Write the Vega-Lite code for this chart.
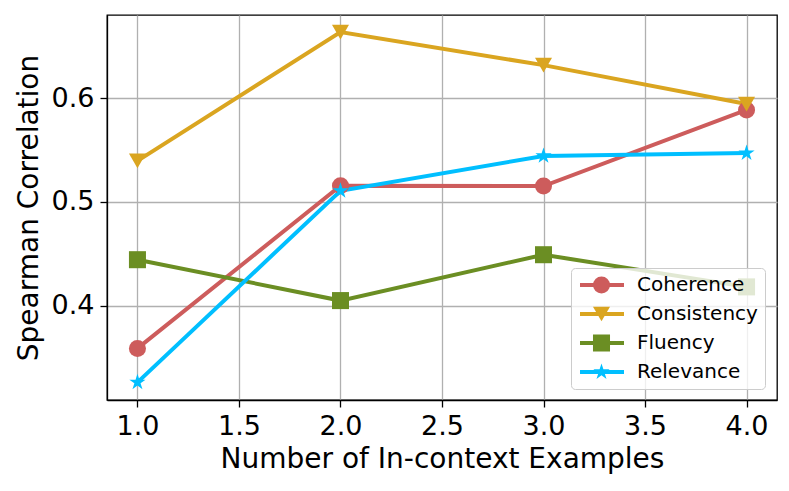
{
  "$schema": "https://vega.github.io/schema/vega-lite/v6.json",
  "width": 670,
  "height": 385,
  "autosize": {"type": "none"},
  "padding": {"left": 107, "top": 15, "right": 12, "bottom": 91},
  "background": "white",
  "data": {"values": [
    {"n": 1, "metric": "Coherence", "rho": 0.3587},
    {"n": 2, "metric": "Coherence", "rho": 0.5154},
    {"n": 3, "metric": "Coherence", "rho": 0.5152},
    {"n": 4, "metric": "Coherence", "rho": 0.5885},
    {"n": 1, "metric": "Consistency", "rho": 0.5394},
    {"n": 2, "metric": "Consistency", "rho": 0.6635},
    {"n": 3, "metric": "Consistency", "rho": 0.6317},
    {"n": 4, "metric": "Consistency", "rho": 0.5942},
    {"n": 1, "metric": "Fluency", "rho": 0.4442},
    {"n": 2, "metric": "Fluency", "rho": 0.4048},
    {"n": 3, "metric": "Fluency", "rho": 0.449},
    {"n": 4, "metric": "Fluency", "rho": 0.418},
    {"n": 1, "metric": "Relevance", "rho": 0.326},
    {"n": 2, "metric": "Relevance", "rho": 0.5106},
    {"n": 3, "metric": "Relevance", "rho": 0.5442},
    {"n": 4, "metric": "Relevance", "rho": 0.547}
  ]},
  "encoding": {
    "x": {"field": "n", "type": "quantitative", "scale": {"domain": [0.85, 4.15], "nice": false, "zero": false},
      "axis": {"title": "Number of In-context Examples", "values": [1, 1.5, 2, 2.5, 3, 3.5, 4], "format": ".1f", "titlePadding": 6, "labelPadding": 6}},
    "y": {"field": "rho", "type": "quantitative", "scale": {"domain": [0.309, 0.68], "nice": false, "zero": false},
      "axis": {"title": "Spearman Correlation", "values": [0.4, 0.5, 0.6], "format": ".1f", "titlePadding": 8, "labelPadding": 6}}
  },
  "layer": [
    {"mark": {"type": "line", "strokeWidth": 4},
     "encoding": {
       "color": {"field": "metric", "type": "nominal",
         "scale": {"domain": ["Coherence", "Consistency", "Fluency", "Relevance"], "range": ["#CD5C5C", "#DAA520", "#6B8E23", "#00BFFF"]},
         "legend": {"title": null, "orient": "none", "legendX": 464, "legendY": 253,
           "symbolType": "stroke", "symbolSize": 1936, "symbolStrokeWidth": 4, "clipHeight": 20,
           "labelFontSize": 20, "labelFont": "DejaVu Sans", "labelColor": "black", "labelOffset": 11,
           "rowPadding": 9, "padding": 7, "strokeColor": "#cccccc", "fillColor": "rgba(255,255,255,0.8)", "cornerRadius": 4}}
     }},
    {"mark": {"type": "point", "filled": true, "opacity": 1, "strokeWidth": 0},
     "encoding": {
       "size": {"value": 290},
       "fill": {"field": "metric", "type": "nominal",
         "scale": {"range": ["#CD5C5C", "#DAA520", "#6B8E23", "#00BFFF"]},
         "legend": {"title": null, "orient": "none", "legendX": 484.5, "legendY": 260,
           "symbolSize": 290, "symbolStrokeWidth": 0, "symbolOpacity": 1, "clipHeight": 20,
           "labelFontSize": 20, "labelFont": "DejaVu Sans", "labelExpr": "''", "labelOffset": 0,
           "rowPadding": 9, "padding": 0}},
       "shape": {"field": "metric", "type": "nominal",
         "scale": {"range": ["circle", "triangle-down", "square", "M0,-1L0.2245,-0.309L0.951,-0.309L0.363,0.118L0.588,0.809L0,0.382L-0.588,0.809L-0.363,0.118L-0.951,-0.309L-0.2245,-0.309Z"]},
         "legend": {"title": null, "orient": "none", "legendX": 484.5, "legendY": 260,
           "symbolSize": 290, "symbolStrokeWidth": 0, "symbolOpacity": 1, "clipHeight": 20,
           "labelFontSize": 20, "labelFont": "DejaVu Sans", "labelExpr": "''", "labelOffset": 0,
           "rowPadding": 9, "padding": 0}}
     }}
  ],
  "config": {
    "view": {"stroke": "black", "strokeWidth": 1.3},
    "axis": {
      "labelFont": "DejaVu Sans", "titleFont": "DejaVu Sans",
      "labelFontSize": 27, "titleFontSize": 28, "titleFontWeight": "normal",
      "labelColor": "black", "titleColor": "black",
      "domainColor": "black", "domainWidth": 1.3, "tickColor": "black", "tickSize": 7, "tickWidth": 1.3,
      "gridColor": "#b0b0b0", "gridWidth": 1.3, "labelFlush": false
    }
  }
}
